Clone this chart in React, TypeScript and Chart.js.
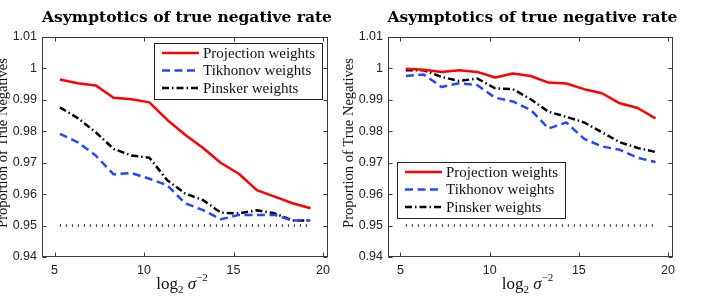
import React, { useEffect, useRef } from "react";
import { Chart, registerables } from "chart.js";

Chart.register(...registerables);

// ---------- data ----------
const xValues = [5.3, 6.3, 7.3, 8.3, 9.3, 10.3, 11.3, 12.3, 13.3, 14.3, 15.3, 16.3, 17.3, 18.3, 19.3];

const leftProjection = [0.9965, 0.9953, 0.9946, 0.9907, 0.9902, 0.9892, 0.9836, 0.9789, 0.9747, 0.9699, 0.9665, 0.9613, 0.9592, 0.9571, 0.9555];
const leftTikhonov = [0.9792, 0.9765, 0.9723, 0.9663, 0.9667, 0.9649, 0.9628, 0.9571, 0.9549, 0.952, 0.9534, 0.9534, 0.9534, 0.9516, 0.9516];
const leftPinsker = [0.9876, 0.9842, 0.9797, 0.9744, 0.9723, 0.9716, 0.9644, 0.9602, 0.9581, 0.9541, 0.9539, 0.9549, 0.9539, 0.9516, 0.9516];

const rightProjection = [0.9999, 0.9996, 0.9989, 0.9994, 0.9989, 0.9971, 0.9984, 0.9976, 0.9955, 0.9952, 0.9934, 0.9921, 0.9889, 0.9874, 0.9841];
const rightTikhonov = [0.9976, 0.9981, 0.9941, 0.9953, 0.9947, 0.9907, 0.9895, 0.9868, 0.9809, 0.9828, 0.9776, 0.9752, 0.9741, 0.9716, 0.9702];
const rightPinsker = [0.9994, 0.9994, 0.9973, 0.996, 0.9968, 0.9937, 0.9934, 0.9902, 0.9862, 0.9846, 0.9828, 0.9797, 0.9765, 0.9747, 0.9734];

const thresholdLevel = 0.95;
const thresholdX = [5.3, 19.3];

const yTicks = [0.94, 0.95, 0.96, 0.97, 0.98, 0.99, 1.0, 1.01];
const xTicks = [5, 10, 15, 20];
const xRange = [4.3, 20.28];
const yRange = [0.94, 1.01];

const seriesLabels = ["Projection weights", "Tikhonov weights", "Pinsker weights"];
const titleText = "Asymptotics of true negative rate";
const yTitleText = "Proportion of True Negatives";

// ---------- styles ----------
const RED = "#ff0000";
const BLUE = "#2448ff";
const BLACK = "#000000";
const FRAME = "#3a3a3a";

type LegendPos = "topRight" | "bottomLeft";

const decorPlugin = {
  id: "decor",
  afterDraw(chart: any) {
    const { ctx, chartArea: a, scales } = chart;
    const cfg = chart.options.plugins.decor;
    const L = Math.round(a.left) + 0.5;
    const T = Math.round(a.top) + 0.5;
    const R = Math.round(a.right) - 0.5;
    const B = Math.round(a.bottom) - 0.5;
    ctx.save();
    // frame
    ctx.strokeStyle = FRAME;
    ctx.lineWidth = 1;
    ctx.setLineDash([]);
    ctx.strokeRect(L, T, R - L, B - T);
    // inward ticks
    const tl = 4;
    ctx.beginPath();
    xTicks.forEach((v) => {
      const px = Math.round(scales.x.getPixelForValue(v)) + 0.5;
      ctx.moveTo(px, B);
      ctx.lineTo(px, B - tl);
      ctx.moveTo(px, T);
      ctx.lineTo(px, T + tl);
    });
    yTicks.forEach((v) => {
      const py = Math.round(scales.y.getPixelForValue(v)) + 0.5;
      ctx.moveTo(L, py);
      ctx.lineTo(L + tl, py);
      ctx.moveTo(R, py);
      ctx.lineTo(R - tl, py);
    });
    ctx.stroke();

    // title
    const cx = (a.left + a.right) / 2;
    ctx.fillStyle = "#000";
    ctx.font = "bold 15.5px 'DejaVu Serif'";
    ctx.textAlign = "center";
    ctx.textBaseline = "middle";
    ctx.fillText(titleText, cx + 2, 18);

    // y title
    ctx.save();
    ctx.translate(a.left - 35, (a.top + a.bottom) / 2 - 4);
    ctx.rotate(-Math.PI / 2);
    ctx.font = "14.5px 'Liberation Serif'";
    ctx.fillStyle = "#111";
    ctx.textAlign = "center";
    ctx.textBaseline = "alphabetic";
    ctx.fillText(yTitleText, 0, 0);
    ctx.restore();

    // x title: log_2 sigma^{-2}
    const parts = [
      { t: "log", f: "17px 'Liberation Serif'", dy: 0 },
      { t: "2", f: "11px 'Liberation Serif'", dy: 4 },
      { t: " ", f: "17px 'Liberation Serif'", dy: 0 },
      { t: "σ", f: "italic 17px 'Liberation Serif'", dy: 0 },
      { t: "−2", f: "11px 'Liberation Serif'", dy: -8 },
    ];
    let total = 0;
    parts.forEach((p) => {
      ctx.font = p.f;
      total += ctx.measureText(p.t).width;
    });
    let x = cx - 3 - total / 2;
    const base = 289;
    ctx.textAlign = "left";
    ctx.textBaseline = "alphabetic";
    ctx.fillStyle = "#111";
    parts.forEach((p) => {
      ctx.font = p.f;
      ctx.fillText(p.t, x, base + p.dy);
      x += ctx.measureText(p.t).width;
    });

    // legend (in series order)
    const items = chart.data.datasets
      .filter((d: any) => d.inLegend)
      .sort((p: any, q: any) => p.legendIndex - q.legendIndex);
    ctx.font = "15px 'Liberation Serif'";
    let maxW = 0;
    items.forEach((d: any) => {
      maxW = Math.max(maxW, ctx.measureText(d.label).width);
    });
    const padL = 8;
    const sample = 37;
    const gap = 4;
    const padR = 7;
    const rowH = 17.5;
    const boxW = Math.round(padL + sample + gap + maxW + padR);
    const boxH = Math.round(rowH * items.length + 3.5);
    let bx: number, by: number;
    if ((cfg.legend as LegendPos) === "topRight") {
      bx = Math.round(a.right - 6 - boxW);
      by = Math.round(a.top + 6);
    } else {
      bx = Math.round(a.left + 9);
      by = Math.round(a.bottom - 39 - boxH);
    }
    ctx.fillStyle = "#fff";
    ctx.fillRect(bx, by, boxW, boxH);
    ctx.strokeStyle = "#222";
    ctx.lineWidth = 1;
    ctx.setLineDash([]);
    ctx.strokeRect(bx + 0.5, by + 0.5, boxW, boxH);
    items.forEach((d: any, i: number) => {
      const yy = by + 10 + i * rowH;
      ctx.strokeStyle = d.borderColor;
      ctx.lineWidth = d.borderWidth;
      ctx.setLineDash(d.borderDash || []);
      ctx.beginPath();
      ctx.moveTo(bx + padL, yy);
      ctx.lineTo(bx + padL + sample, yy);
      ctx.stroke();
      ctx.setLineDash([]);
      ctx.fillStyle = "#111";
      ctx.textAlign = "left";
      ctx.textBaseline = "middle";
      ctx.fillText(d.label, bx + padL + sample + gap, yy + 1);
    });
    ctx.restore();
  },
};

type PanelProps = {
  left: number;
  width: number;
  yAxisWidth: number;
  padRight: number;
  projection: number[];
  tikhonov: number[];
  pinsker: number[];
  legend: LegendPos;
};

function Panel(props: PanelProps) {
  const ref = useRef<HTMLCanvasElement | null>(null);
  useEffect(() => {
    if (!ref.current) return;
    const toPts = (arr: number[]) => arr.map((y, i) => ({ x: xValues[i], y }));
    const chart = new Chart(ref.current, {
      type: "line",
      data: {
        datasets: [
          {
            label: "threshold",
            data: thresholdX.map((x) => ({ x, y: thresholdLevel })),
            borderColor: "#222",
            borderWidth: 2.5,
            borderDash: [1, 5],
            pointRadius: 0,
            inLegend: false,
            order: 3,
          } as any,
          {
            label: seriesLabels[2],
            data: toPts(props.pinsker),
            borderColor: BLACK,
            borderWidth: 2.5,
            borderDash: [7, 3, 1.5, 3],
            pointRadius: 0,
            inLegend: true,
            legendIndex: 2,
            order: 2,
          } as any,
          {
            label: seriesLabels[1],
            data: toPts(props.tikhonov),
            borderColor: BLUE,
            borderWidth: 2.5,
            borderDash: [8, 4.5],
            pointRadius: 0,
            inLegend: true,
            legendIndex: 1,
            order: 1,
          } as any,
          {
            label: seriesLabels[0],
            data: toPts(props.projection),
            borderColor: RED,
            borderWidth: 2.5,
            borderDash: [],
            pointRadius: 0,
            inLegend: true,
            legendIndex: 0,
            order: 0,
          } as any,
        ],
      },
      options: {
        responsive: false,
        animation: false,
        events: [],
        layout: { padding: { top: 37, right: props.padRight, left: 0, bottom: 0 } },
        plugins: {
          legend: { display: false },
          tooltip: { enabled: false },
          title: { display: false },
          decor: { legend: props.legend },
        } as any,
        elements: { line: { tension: 0, borderJoinStyle: "round" } },
        scales: {
          x: {
            type: "linear",
            min: xRange[0],
            max: xRange[1],
            grid: { display: false, drawTicks: false },
            border: { display: false },
            ticks: {
              color: "#222",
              font: { family: "'Liberation Sans'", size: 12.5 },
              padding: 6,
              maxRotation: 0,
            },
            afterBuildTicks: (s: any) => {
              s.ticks = xTicks.map((v) => ({ value: v }));
            },
            afterFit: (s: any) => {
              s.height = 39;
            },
          },
          y: {
            type: "linear",
            min: yRange[0],
            max: yRange[1],
            grid: { display: false, drawTicks: false },
            border: { display: false },
            ticks: {
              color: "#222",
              font: { family: "'Liberation Sans'", size: 12.5 },
              padding: 5,
              callback: (v: any) => String(Number(Number(v).toFixed(2))),
            },
            afterBuildTicks: (s: any) => {
              s.ticks = yTicks.map((v) => ({ value: v }));
            },
            afterFit: (s: any) => {
              s.width = props.yAxisWidth;
            },
          },
        },
      },
      plugins: [decorPlugin],
    });
    return () => chart.destroy();
  }, []);
  return (
    <canvas
      ref={ref}
      width={props.width}
      height={296}
      style={{ position: "absolute", left: props.left, top: 0, width: props.width, height: 296 }}
    />
  );
}

export default function App() {
  return (
    <div style={{ position: "fixed", left: 0, top: 0, width: 706, height: 296, background: "#fff", overflow: "hidden" }}>
      <Panel left={0} width={353} yAxisWidth={42} padRight={25} projection={leftProjection} tikhonov={leftTikhonov} pinsker={leftPinsker} legend="topRight" />
      <Panel left={336} width={370} yAxisWidth={52} padRight={33} projection={rightProjection} tikhonov={rightTikhonov} pinsker={rightPinsker} legend="bottomLeft" />
    </div>
  );
}
